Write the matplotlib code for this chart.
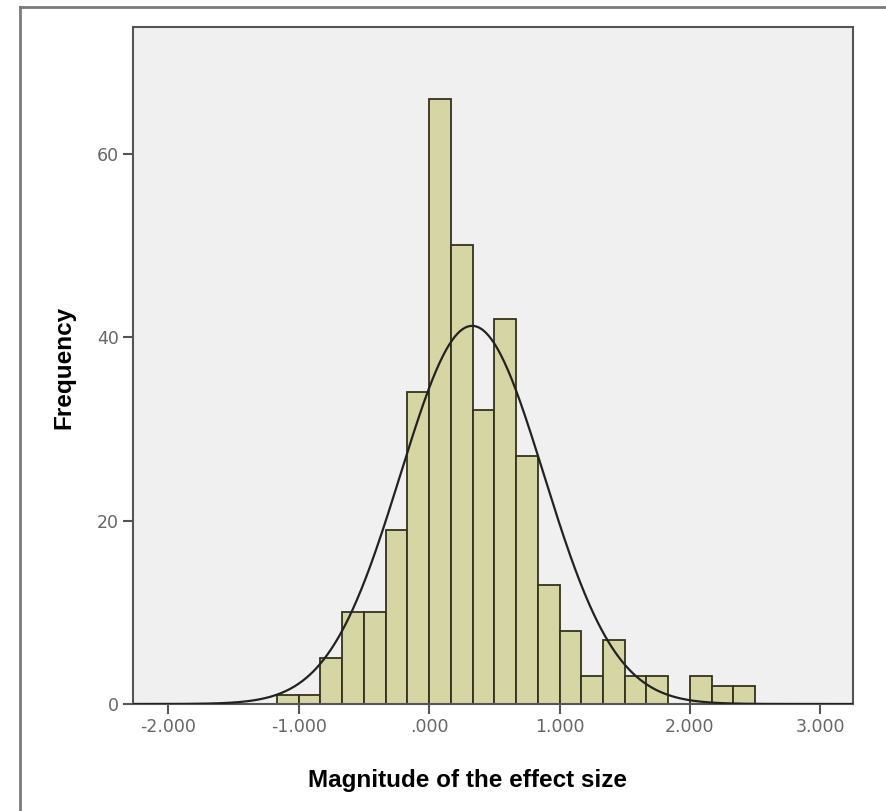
import matplotlib
matplotlib.use('Agg')
import matplotlib.pyplot as plt
import numpy as np

# bin edges (width 1/6) and counts
bin_left = -7 / 6
bin_width = 1 / 6
counts = [1, 1, 5, 10, 10, 19, 34, 66, 50, 32, 42, 27, 13, 8, 3, 7, 3, 3, 0, 3, 2, 2]

# normal curve parameters (mean / sd of the effect sizes)
curve_mean = 0.33
curve_sd = 0.55

x_ticks = [-2, -1, 0, 1, 2, 3]
x_tick_labels = ['-2.000', '-1.000', '.000', '1.000', '2.000', '3.000']
y_ticks = [0, 20, 40, 60]

edges = bin_left + bin_width * np.arange(len(counts) + 1)
n_total = sum(counts)

W, H = 886, 811
fig = plt.figure(figsize=(W / 100, H / 100), dpi=100)
fig.patch.set_facecolor('white')

# outer frame (only top and left edges visible in the original)
fig.add_artist(plt.Line2D([20 / W, 1.0], [1 - 7 / H, 1 - 7 / H],
                          transform=fig.transFigure, color='#7a7a7a', lw=2))
fig.add_artist(plt.Line2D([20 / W, 20 / W], [0.0, 1 - 7 / H],
                          transform=fig.transFigure, color='#7a7a7a', lw=2))

ax = fig.add_axes([133 / W, 1 - 704 / H, (853 - 133) / W, (704 - 27) / H])
ax.set_facecolor('#f0f0f0')

ax.bar(edges[:-1], counts, width=bin_width, align='edge',
       color='#d6d6a4', edgecolor='#33331f', linewidth=1.3, zorder=2)

xs = np.linspace(-2.27, 3.25, 600)
pdf = n_total * bin_width / (curve_sd * np.sqrt(2 * np.pi)) * np.exp(-0.5 * ((xs - curve_mean) / curve_sd) ** 2)
ax.plot(xs, pdf, color='#222222', lw=1.6, zorder=3)

ax.set_xlim(-2.27, 3.25)
ax.set_ylim(0, 73.8)
ax.set_xticks(x_ticks)
ax.set_xticklabels(x_tick_labels)
ax.set_yticks(y_ticks)

for s in ax.spines.values():
    s.set_color('#555555')
    s.set_linewidth(1.5)

ax.tick_params(axis='both', direction='out', length=7, width=1.5, color='#555555',
               labelcolor='#666666', labelsize=12.5, pad=3)

fig.text(468 / W, 1 - 781 / H, 'Magnitude of the effect size', fontsize=17.5,
         fontweight='bold', family='Liberation Sans', ha='center', va='center')
fig.text(64 / W, 1 - 367 / H, 'Frequency', fontsize=17.5, rotation=90,
         fontweight='bold', family='Liberation Sans', ha='center', va='center')

plt.savefig('out.png', dpi=100)
plt.close()
